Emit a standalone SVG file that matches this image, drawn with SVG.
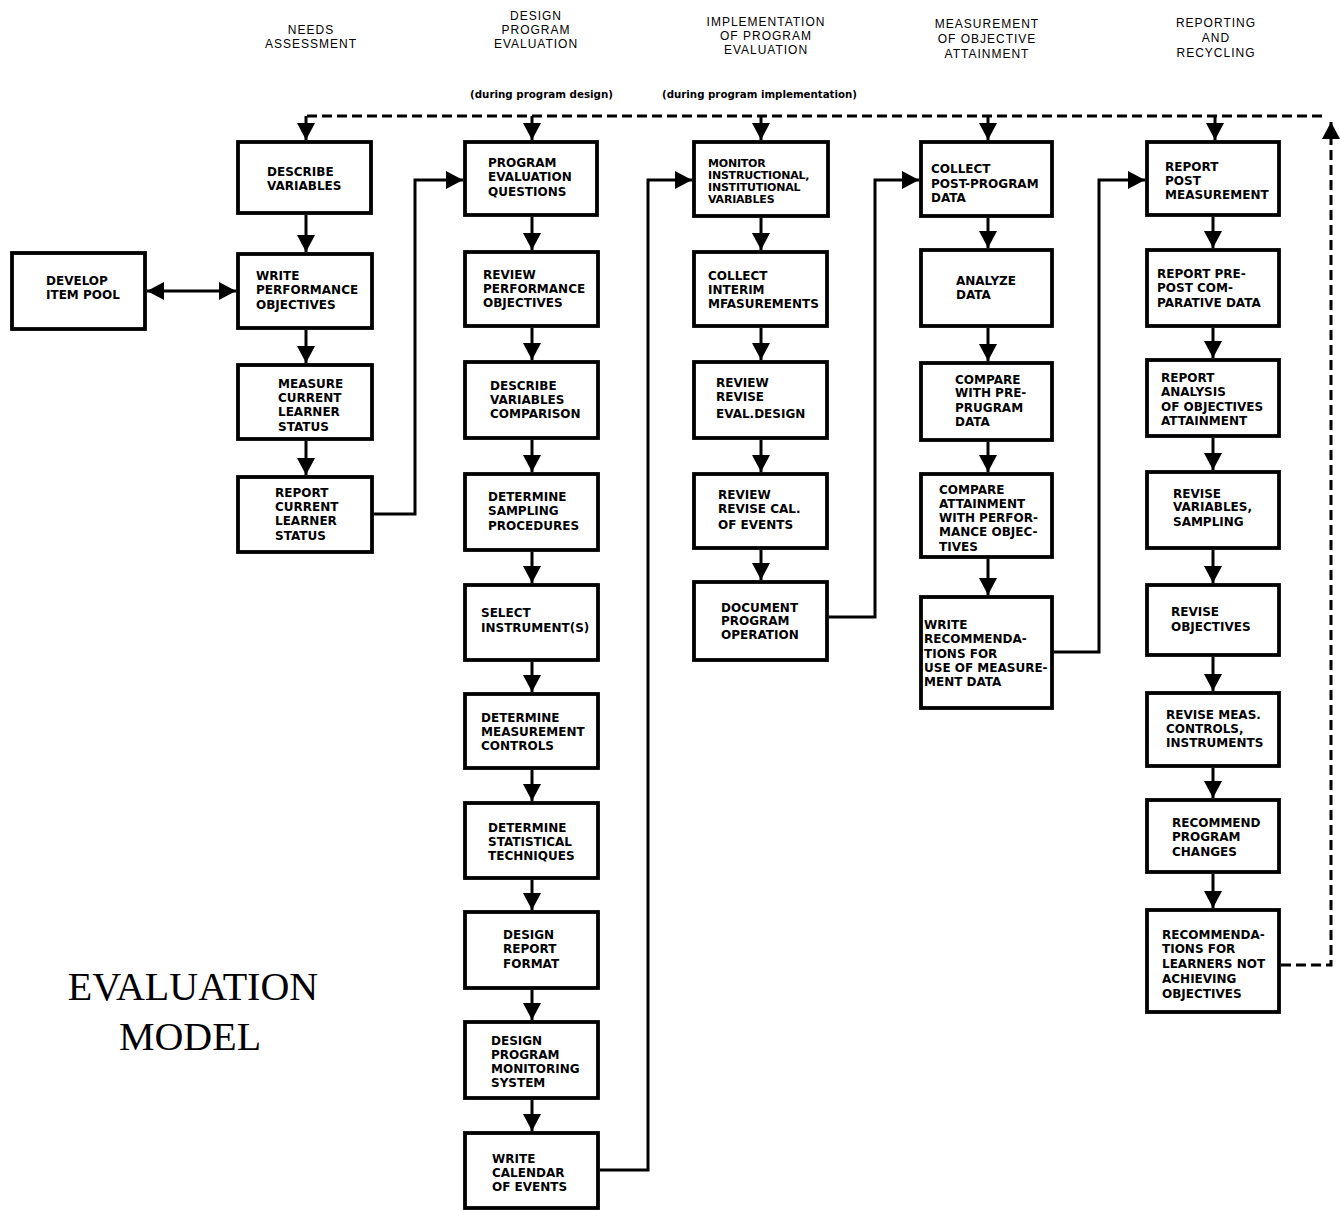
<svg xmlns="http://www.w3.org/2000/svg" width="1340" height="1210" viewBox="0 0 1340 1210">
<style>
.box{fill:#fff;stroke:#000;stroke-width:3.8}
.lbl{font-family:"DejaVu Sans",sans-serif;font-weight:bold;font-size:12px;fill:#000}
.hdr{font-family:"Liberation Sans",Arial,sans-serif;font-size:12px;letter-spacing:1px;text-anchor:middle;fill:#000}
.sub{font-family:"DejaVu Sans",sans-serif;font-weight:bold;font-size:10px;fill:#000}
.title{font-family:"Liberation Serif","Times New Roman",serif;font-size:40px;text-anchor:middle;fill:#000}
.conn{fill:none;stroke:#000;stroke-width:3}
.dash{stroke-dasharray:10 5}
</style>
<defs>
<marker id="ah" viewBox="0 0 17 18" refX="17" refY="9" markerWidth="17" markerHeight="18" markerUnits="userSpaceOnUse" orient="auto-start-reverse">
<path d="M0,0 L17,9 L0,18 z" fill="#000"/>
</marker>
</defs>
<rect width="1340" height="1210" fill="#fff"/>

<g id="headers">
<text class="hdr" x="311" y="34">NEEDS</text>
<text class="hdr" x="311" y="48">ASSESSMENT</text>
<text class="hdr" x="536" y="20">DESIGN</text>
<text class="hdr" x="536" y="34">PROGRAM</text>
<text class="hdr" x="536" y="48">EVALUATION</text>
<text class="hdr" x="766" y="26">IMPLEMENTATION</text>
<text class="hdr" x="766" y="40">OF PROGRAM</text>
<text class="hdr" x="766" y="54">EVALUATION</text>
<text class="hdr" x="987" y="28">MEASUREMENT</text>
<text class="hdr" x="987" y="43">OF OBJECTIVE</text>
<text class="hdr" x="987" y="58">ATTAINMENT</text>
<text class="hdr" x="1216" y="27">REPORTING</text>
<text class="hdr" x="1216" y="42">AND</text>
<text class="hdr" x="1216" y="57">RECYCLING</text>
<text class="sub" x="470" y="98" textLength="143" lengthAdjust="spacingAndGlyphs">(during program design)</text>
<text class="sub" x="662" y="98" textLength="195" lengthAdjust="spacingAndGlyphs">(during program implementation)</text>
</g>

<g id="title">
<text class="title" x="193" y="1000">EVALUATION</text>
<text class="title" x="190" y="1050">MODEL</text>
</g>

<g id="connectors">
<path class="conn dash" d="M1281,965 H1331 V122" marker-end="url(#ah)"/>
<path class="conn dash" d="M1322,116 H306"/>
<path class="conn" d="M306,116 V140" marker-end="url(#ah)"/>
<path class="conn" d="M532,116 V140" marker-end="url(#ah)"/>
<path class="conn" d="M761,116 V140" marker-end="url(#ah)"/>
<path class="conn" d="M988,116 V140" marker-end="url(#ah)"/>
<path class="conn" d="M1215,116 V140" marker-end="url(#ah)"/>
<path class="conn" d="M147,291 H236" marker-start="url(#ah)" marker-end="url(#ah)"/>
<path class="conn" d="M306,215 V252" marker-end="url(#ah)"/>
<path class="conn" d="M306,330 V363" marker-end="url(#ah)"/>
<path class="conn" d="M306,441 V475" marker-end="url(#ah)"/>
<path class="conn" d="M374,514 H415 V180 H463" marker-end="url(#ah)"/>
<path class="conn" d="M532,217 V250" marker-end="url(#ah)"/>
<path class="conn" d="M532,328 V360" marker-end="url(#ah)"/>
<path class="conn" d="M532,440 V472" marker-end="url(#ah)"/>
<path class="conn" d="M532,552 V583" marker-end="url(#ah)"/>
<path class="conn" d="M532,662 V692" marker-end="url(#ah)"/>
<path class="conn" d="M532,770 V801" marker-end="url(#ah)"/>
<path class="conn" d="M532,880 V910" marker-end="url(#ah)"/>
<path class="conn" d="M532,990 V1020" marker-end="url(#ah)"/>
<path class="conn" d="M532,1100 V1131" marker-end="url(#ah)"/>
<path class="conn" d="M600,1170 H648 V180 H692" marker-end="url(#ah)"/>
<path class="conn" d="M761,218 V250" marker-end="url(#ah)"/>
<path class="conn" d="M761,328 V360" marker-end="url(#ah)"/>
<path class="conn" d="M761,440 V472" marker-end="url(#ah)"/>
<path class="conn" d="M761,550 V580" marker-end="url(#ah)"/>
<path class="conn" d="M829,617 H875 V180 H919" marker-end="url(#ah)"/>
<path class="conn" d="M988,218 V248" marker-end="url(#ah)"/>
<path class="conn" d="M988,328 V361" marker-end="url(#ah)"/>
<path class="conn" d="M988,442 V472" marker-end="url(#ah)"/>
<path class="conn" d="M988,559 V595" marker-end="url(#ah)"/>
<path class="conn" d="M1054,652 H1099 V180 H1145" marker-end="url(#ah)"/>
<path class="conn" d="M1213,217 V248" marker-end="url(#ah)"/>
<path class="conn" d="M1213,328 V358" marker-end="url(#ah)"/>
<path class="conn" d="M1213,438 V470" marker-end="url(#ah)"/>
<path class="conn" d="M1213,550 V583" marker-end="url(#ah)"/>
<path class="conn" d="M1213,657 V691" marker-end="url(#ah)"/>
<path class="conn" d="M1213,768 V798" marker-end="url(#ah)"/>
<path class="conn" d="M1213,874 V908" marker-end="url(#ah)"/>
</g>

<g id="n-develop-item-pool">
<rect class="box" x="12" y="253" width="133" height="76"/>
<text class="lbl"><tspan x="46" y="285">DEVELOP</tspan><tspan x="46" y="299">ITEM POOL</tspan></text>
</g>
<g id="n-describe-variables">
<rect class="box" x="238" y="142" width="133" height="71"/>
<text class="lbl"><tspan x="267" y="176">DESCRIBE</tspan><tspan x="267" y="190">VARIABLES</tspan></text>
</g>
<g id="n-write-performance-objectives">
<rect class="box" x="238" y="254" width="134" height="74"/>
<text class="lbl"><tspan x="256" y="280">WRITE</tspan><tspan x="256" y="294">PERFORMANCE</tspan><tspan x="256" y="309">OBJECTIVES</tspan></text>
</g>
<g id="n-measure-current-learner-status">
<rect class="box" x="238" y="365" width="134" height="74"/>
<text class="lbl"><tspan x="278" y="388">MEASURE</tspan><tspan x="278" y="402">CURRENT</tspan><tspan x="278" y="416">LEARNER</tspan><tspan x="278" y="431">STATUS</tspan></text>
</g>
<g id="n-report-current-learner-status">
<rect class="box" x="238" y="477" width="134" height="75"/>
<text class="lbl"><tspan x="275" y="497">REPORT</tspan><tspan x="275" y="511">CURRENT</tspan><tspan x="275" y="525">LEARNER</tspan><tspan x="275" y="540">STATUS</tspan></text>
</g>

<g id="n-program-evaluation-questions">
<rect class="box" x="465" y="142" width="132" height="73"/>
<text class="lbl"><tspan x="488" y="167">PROGRAM</tspan><tspan x="488" y="181">EVALUATION</tspan><tspan x="488" y="196">QUESTIONS</tspan></text>
</g>
<g id="n-review-performance-objectives">
<rect class="box" x="465" y="252" width="133" height="74"/>
<text class="lbl"><tspan x="483" y="279">REVIEW</tspan><tspan x="483" y="293">PERFORMANCE</tspan><tspan x="483" y="307">OBJECTIVES</tspan></text>
</g>
<g id="n-describe-variables-comparison">
<rect class="box" x="465" y="362" width="133" height="76"/>
<text class="lbl"><tspan x="490" y="390">DESCRIBE</tspan><tspan x="490" y="404">VARIABLES</tspan><tspan x="490" y="418">COMPARISON</tspan></text>
</g>
<g id="n-determine-sampling-procedures">
<rect class="box" x="465" y="474" width="133" height="76"/>
<text class="lbl"><tspan x="488" y="501">DETERMINE</tspan><tspan x="488" y="515">SAMPLING</tspan><tspan x="488" y="530">PROCEDURES</tspan></text>
</g>
<g id="n-select-instruments">
<rect class="box" x="465" y="585" width="133" height="75"/>
<text class="lbl"><tspan x="481" y="617">SELECT</tspan><tspan x="481" y="632">INSTRUMENT(S)</tspan></text>
</g>
<g id="n-determine-measurement-controls">
<rect class="box" x="465" y="694" width="133" height="74"/>
<text class="lbl"><tspan x="481" y="722">DETERMINE</tspan><tspan x="481" y="736">MEASUREMENT</tspan><tspan x="481" y="750">CONTROLS</tspan></text>
</g>
<g id="n-determine-statistical-techniques">
<rect class="box" x="465" y="803" width="133" height="75"/>
<text class="lbl"><tspan x="488" y="832">DETERMINE</tspan><tspan x="488" y="846">STATISTICAL</tspan><tspan x="488" y="860">TECHNIQUES</tspan></text>
</g>
<g id="n-design-report-format">
<rect class="box" x="465" y="912" width="133" height="76"/>
<text class="lbl"><tspan x="503" y="939">DESIGN</tspan><tspan x="503" y="953">REPORT</tspan><tspan x="503" y="968">FORMAT</tspan></text>
</g>
<g id="n-design-program-monitoring-system">
<rect class="box" x="465" y="1022" width="133" height="76"/>
<text class="lbl"><tspan x="491" y="1045">DESIGN</tspan><tspan x="491" y="1059">PROGRAM</tspan><tspan x="491" y="1073">MONITORING</tspan><tspan x="491" y="1087">SYSTEM</tspan></text>
</g>
<g id="n-write-calendar-of-events">
<rect class="box" x="465" y="1133" width="133" height="75"/>
<text class="lbl"><tspan x="492" y="1163">WRITE</tspan><tspan x="492" y="1177">CALENDAR</tspan><tspan x="492" y="1191">OF EVENTS</tspan></text>
</g>

<g id="n-monitor-variables">
<rect class="box" x="694" y="142" width="134" height="74"/>
<text class="lbl" style="font-size:11px;letter-spacing:-0.2px"><tspan x="708" y="167">MONITOR</tspan><tspan x="708" y="179">INSTRUCTIONAL,</tspan><tspan x="708" y="191">INSTITUTIONAL</tspan><tspan x="708" y="203">VARIABLES</tspan></text>
</g>
<g id="n-collect-interim-measurements">
<rect class="box" x="694" y="252" width="133" height="74"/>
<text class="lbl"><tspan x="708" y="280">COLLECT</tspan><tspan x="708" y="294">INTERIM</tspan><tspan x="708" y="308">MFASUREMENTS</tspan></text>
</g>
<g id="n-review-revise-eval-design">
<rect class="box" x="694" y="362" width="133" height="76"/>
<text class="lbl"><tspan x="716" y="387">REVIEW</tspan><tspan x="716" y="401">REVISE</tspan><tspan x="716" y="418">EVAL.DESIGN</tspan></text>
</g>
<g id="n-review-revise-cal-of-events">
<rect class="box" x="694" y="474" width="133" height="74"/>
<text class="lbl"><tspan x="718" y="499">REVIEW</tspan><tspan x="718" y="513">REVISE CAL.</tspan><tspan x="718" y="529">OF EVENTS</tspan></text>
</g>
<g id="n-document-program-operation">
<rect class="box" x="694" y="582" width="133" height="78"/>
<text class="lbl"><tspan x="721" y="612">DOCUMENT</tspan><tspan x="721" y="625">PROGRAM</tspan><tspan x="721" y="639">OPERATION</tspan></text>
</g>

<g id="n-collect-post-program-data">
<rect class="box" x="921" y="142" width="131" height="74"/>
<text class="lbl"><tspan x="931" y="173">COLLECT</tspan><tspan x="931" y="188">POST-PROGRAM</tspan><tspan x="931" y="202">DATA</tspan></text>
</g>
<g id="n-analyze-data">
<rect class="box" x="921" y="250" width="131" height="76"/>
<text class="lbl"><tspan x="956" y="285">ANALYZE</tspan><tspan x="956" y="299">DATA</tspan></text>
</g>
<g id="n-compare-with-pre-program-data">
<rect class="box" x="921" y="363" width="131" height="77"/>
<text class="lbl"><tspan x="955" y="384">COMPARE</tspan><tspan x="955" y="397">WITH PRE-</tspan><tspan x="955" y="412">PRUGRAM</tspan><tspan x="955" y="426">DATA</tspan></text>
</g>
<g id="n-compare-attainment">
<rect class="box" x="921" y="474" width="131" height="83"/>
<text class="lbl"><tspan x="939" y="494">COMPARE</tspan><tspan x="939" y="508">ATTAINMENT</tspan><tspan x="939" y="522">WITH PERFOR-</tspan><tspan x="939" y="536">MANCE OBJEC-</tspan><tspan x="939" y="551">TIVES</tspan></text>
</g>
<g id="n-write-recommendations">
<rect class="box" x="921" y="597" width="131" height="111"/>
<text class="lbl"><tspan x="924" y="629">WRITE</tspan><tspan x="924" y="643">RECOMMENDA-</tspan><tspan x="924" y="658">TIONS FOR</tspan><tspan x="924" y="672">USE OF MEASURE-</tspan><tspan x="924" y="686">MENT DATA</tspan></text>
</g>

<g id="n-report-post-measurement">
<rect class="box" x="1147" y="142" width="132" height="73"/>
<text class="lbl"><tspan x="1165" y="171">REPORT</tspan><tspan x="1165" y="185">POST</tspan><tspan x="1165" y="199">MEASUREMENT</tspan></text>
</g>
<g id="n-report-pre-post-comparative-data">
<rect class="box" x="1147" y="250" width="132" height="76"/>
<text class="lbl"><tspan x="1157" y="278">REPORT PRE-</tspan><tspan x="1157" y="292">POST COM-</tspan><tspan x="1157" y="307">PARATIVE DATA</tspan></text>
</g>
<g id="n-report-analysis">
<rect class="box" x="1147" y="360" width="132" height="76"/>
<text class="lbl"><tspan x="1161" y="382">REPORT</tspan><tspan x="1161" y="396">ANALYSIS</tspan><tspan x="1161" y="411">OF OBJECTIVES</tspan><tspan x="1161" y="425">ATTAINMENT</tspan></text>
</g>
<g id="n-revise-variables-sampling">
<rect class="box" x="1147" y="472" width="132" height="76"/>
<text class="lbl"><tspan x="1173" y="498">REVISE</tspan><tspan x="1173" y="511">VARIABLES,</tspan><tspan x="1173" y="526">SAMPLING</tspan></text>
</g>
<g id="n-revise-objectives">
<rect class="box" x="1147" y="585" width="132" height="70"/>
<text class="lbl"><tspan x="1171" y="616">REVISE</tspan><tspan x="1171" y="631">OBJECTIVES</tspan></text>
</g>
<g id="n-revise-meas-controls">
<rect class="box" x="1147" y="693" width="132" height="73"/>
<text class="lbl"><tspan x="1166" y="719">REVISE MEAS.</tspan><tspan x="1166" y="733">CONTROLS,</tspan><tspan x="1166" y="747">INSTRUMENTS</tspan></text>
</g>
<g id="n-recommend-program-changes">
<rect class="box" x="1147" y="800" width="132" height="72"/>
<text class="lbl"><tspan x="1172" y="827">RECOMMEND</tspan><tspan x="1172" y="841">PROGRAM</tspan><tspan x="1172" y="856">CHANGES</tspan></text>
</g>
<g id="n-recommendations-learners">
<rect class="box" x="1147" y="910" width="132" height="102"/>
<text class="lbl"><tspan x="1162" y="939">RECOMMENDA-</tspan><tspan x="1162" y="953">TIONS FOR</tspan><tspan x="1162" y="968">LEARNERS NOT</tspan><tspan x="1162" y="983">ACHIEVING</tspan><tspan x="1162" y="998">OBJECTIVES</tspan></text>
</g>
</svg>
